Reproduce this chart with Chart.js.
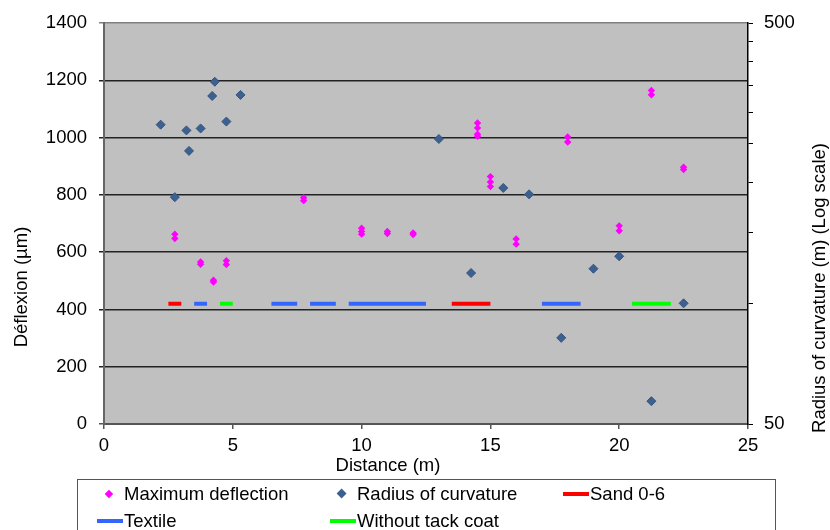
<!DOCTYPE html>
<html>
<head>
<meta charset="utf-8">
<script src="https://cdn.jsdelivr.net/npm/chart.js@4/dist/chart.umd.min.js"></script>
<style>
  body { margin: 0; background: #fff; font-family: "Liberation Sans", Arial, sans-serif; }
  #wrap { position: relative; width: 830px; height: 530px; overflow: hidden; }
  #legend { position: absolute; left: 77px; top: 479px; width: 699px; height: 80px;
            border: 1px solid #555; box-sizing: border-box; }
  .item { position: absolute; font-size: 18.5px; line-height: 22px; white-space: nowrap; color: #000; }
  .sym { position: absolute; }
</style>
</head>
<body>
<div id="wrap">
  <canvas id="myChart" width="830" height="530"></canvas>
  <div id="legend"></div>
</div>
<script>
// Maximum deflection (left axis, µm)
const deflDist  = [2.75, 2.75, 3.75, 3.75, 4.25, 4.25, 4.75, 4.75, 7.75, 7.75,
                   10, 10, 10, 11, 11, 12, 12, 14.5, 14.5, 14.5, 14.5, 15, 15, 15,
                   16, 16, 18, 18, 20, 20, 21.25, 21.25, 22.5, 22.5];
const deflValue = [663, 648, 566, 558, 502, 496, 570, 557, 790, 780,
                   684, 672, 663, 672, 665, 667, 662, 1051, 1034, 1012, 1005, 864, 845, 829,
                   646, 628, 1002, 985, 692, 675, 1165, 1150, 897, 889];

// Radius of curvature (right axis, m, log)
const radiusDist  = [2.2, 2.75, 3.2, 3.3, 3.75, 4.2, 4.3, 4.75, 5.3,
                     13, 14.25, 15.5, 16.5, 17.75, 19, 20, 21.25, 22.5];
const radiusValue = [279, 184, 270, 240, 273, 329, 357, 284, 331,
                     257, 119, 194, 187, 82, 122, 131, 57, 100];

// interface zones, drawn at one level on the left axis
const zoneLevel = 420;
const sandStart = [2.5, 13.5];
const sandEnd   = [3, 15];
const textileStart = [3.5, 6.5, 8, 9.5, 17];
const textileEnd   = [4, 7.5, 9, 12.5, 18.5];
const tackStart = [4.5, 20.5];
const tackEnd   = [5, 22];

const leftTicks  = [0, 200, 400, 600, 800, 1000, 1200, 1400];
const rightTicks = [50, 100, 150, 200, 250, 300, 350, 400, 450, 500];
const rightLabels = [50, 500];

function toPoints(xs, ys) {
  return xs.map((x, i) => ({ x: x, y: ys[i] }));
}

// segments joined with a null point so the line breaks between them
function toSegments(starts, ends) {
  const pts = [];
  starts.forEach((s, i) => {
    if (i > 0) pts.push({ x: (ends[i - 1] + s) / 2, y: null });
    pts.push({ x: s, y: zoneLevel });
    pts.push({ x: ends[i], y: zoneLevel });
  });
  return pts;
}

Chart.defaults.font.family = '"Liberation Sans", Arial, sans-serif';
Chart.defaults.font.size = 18.5;
Chart.defaults.color = '#000';

const plotBackground = {
  id: 'plotBackground',
  beforeDraw(chart) {
    const a = chart.chartArea;
    const ctx = chart.ctx;
    ctx.save();
    ctx.fillStyle = '#C0C0C0';
    ctx.fillRect(a.left, a.top, a.right - a.left, a.bottom - a.top);
    ctx.restore();
  }
};

const axisTitles = {
  id: 'axisTitles',
  afterDraw(chart) {
    const ctx = chart.ctx;
    ctx.save();
    ctx.fillStyle = '#000';
    ctx.font = '18.5px "Liberation Sans", Arial, sans-serif';
    ctx.textAlign = 'center';
    ctx.textBaseline = 'middle';
    ctx.fillText('Distance (m)', 388, 466);
    ctx.translate(22, 287);
    ctx.rotate(-Math.PI / 2);
    ctx.fillText('Déflexion (µm)', 0, 0);
    ctx.restore();
    ctx.save();
    ctx.fillStyle = '#000';
    ctx.font = '18.5px "Liberation Sans", Arial, sans-serif';
    ctx.textAlign = 'center';
    ctx.textBaseline = 'middle';
    ctx.translate(820, 288);
    ctx.rotate(-Math.PI / 2);
    ctx.fillText('Radius of curvature (m) (Log scale)', 0, 0);
    ctx.restore();
  }
};

const ctx1 = document.getElementById('myChart').getContext('2d');
const chart1 = new Chart(ctx1, {
  type: 'scatter',
  data: {
    datasets: [{
      label: 'Maximum deflection',
      data: toPoints(deflDist, deflValue),
      yAxisID: 'y',
      pointStyle: 'rectRot',
      pointRadius: 3.7,
      borderWidth: 0,
      backgroundColor: '#FF00FF',
      borderColor: '#FF00FF',
      order: 1
    }, {
      label: 'Radius of curvature',
      data: toPoints(radiusDist, radiusValue),
      yAxisID: 'y2',
      pointStyle: 'rectRot',
      pointRadius: 4.5,
      borderWidth: 1,
      backgroundColor: '#3C6090',
      borderColor: '#345580',
      order: 0
    }, {
      label: 'Sand 0-6',
      data: toSegments(sandStart, sandEnd),
      yAxisID: 'y',
      showLine: true,
      spanGaps: false,
      pointRadius: 0,
      borderWidth: 4,
      borderColor: '#FF0000',
      backgroundColor: '#FF0000',
      order: 2
    }, {
      label: 'Textile',
      data: toSegments(textileStart, textileEnd),
      yAxisID: 'y',
      showLine: true,
      spanGaps: false,
      pointRadius: 0,
      borderWidth: 4,
      borderColor: '#3366FF',
      backgroundColor: '#3366FF',
      order: 2
    }, {
      label: 'Without tack coat',
      data: toSegments(tackStart, tackEnd),
      yAxisID: 'y',
      showLine: true,
      spanGaps: false,
      pointRadius: 0,
      borderWidth: 4,
      borderColor: '#00FF00',
      backgroundColor: '#00FF00',
      order: 2
    }]
  },
  options: {
    responsive: false,
    animation: false,
    layout: { padding: { top: 21, left: 0, right: 0, bottom: 0 } },
    plugins: {
      legend: { display: false },
      tooltip: { enabled: false }
    },
    scales: {
      x: {
        type: 'linear',
        min: 0,
        max: 25,
        afterFit: (scale) => { scale.height = 106; },
        ticks: { stepSize: 5, padding: 6, maxRotation: 0, callback: (v) => String(v) },
        grid: { drawOnChartArea: false, tickLength: 5, color: '#555', lineWidth: 1.5 },
        border: { color: '#555', width: 2 }
      },
      y: {
        position: 'left',
        min: 0,
        max: 1400,
        afterFit: (scale) => { scale.width = 104; },
        afterBuildTicks: (scale) => { scale.ticks = leftTicks.map(v => ({ value: v })); },
        ticks: { padding: 12, callback: (v) => String(v) },
        grid: {
          tickLength: 5,
          lineWidth: 1.5,
          color: (c) => (c.tick && c.tick.value === 1400 ? '#808080' : (c.tick && c.tick.value === 0 ? '#555' : '#222'))
        },
        border: { color: '#666', width: 2 }
      },
      y2: {
        type: 'logarithmic',
        position: 'right',
        min: 50,
        max: 500,
        afterFit: (scale) => { scale.width = 82; },
        afterBuildTicks: (scale) => { scale.ticks = rightTicks.map(v => ({ value: v })); },
        ticks: {
          padding: 11,
          callback: (v) => (rightLabels.includes(v) ? String(v) : '')
        },
        grid: { drawOnChartArea: false, tickLength: 5, color: '#000', lineWidth: 1 },
        border: { color: '#000', width: 1.5 }
      }
    }
  },
  plugins: [plotBackground, axisTitles]
});

// legend built from the datasets, laid out in three columns like the original
const legendCols = [97, 330, 563];
const legendRows = [494, 521];
const legend = document.getElementById('legend');
chart1.data.datasets.forEach((ds, i) => {
  const col = legendCols[i % 3];
  const row = legendRows[Math.floor(i / 3)];
  const sym = document.createElement('div');
  sym.className = 'sym';
  if (ds.showLine) {
    sym.style.left = (col - 78) + 'px';
    sym.style.top = (row - 480 - 2) + 'px';
    sym.style.width = '26px';
    sym.style.height = '4px';
    sym.style.background = ds.borderColor;
  } else {
    const s = ds.pointRadius * 1.6;
    sym.style.left = (col - 78 + 12 - s / 2) + 'px';
    sym.style.top = (row - 480 - s / 2) + 'px';
    sym.style.width = s + 'px';
    sym.style.height = s + 'px';
    sym.style.background = ds.backgroundColor;
    sym.style.transform = 'rotate(45deg)';
  }
  legend.appendChild(sym);
  const txt = document.createElement('div');
  txt.className = 'item';
  txt.textContent = ds.label;
  txt.style.left = (col - 78 + 27) + 'px';
  txt.style.top = (row - 480 - 11) + 'px';
  legend.appendChild(txt);
});
</script>
</body>
</html>
